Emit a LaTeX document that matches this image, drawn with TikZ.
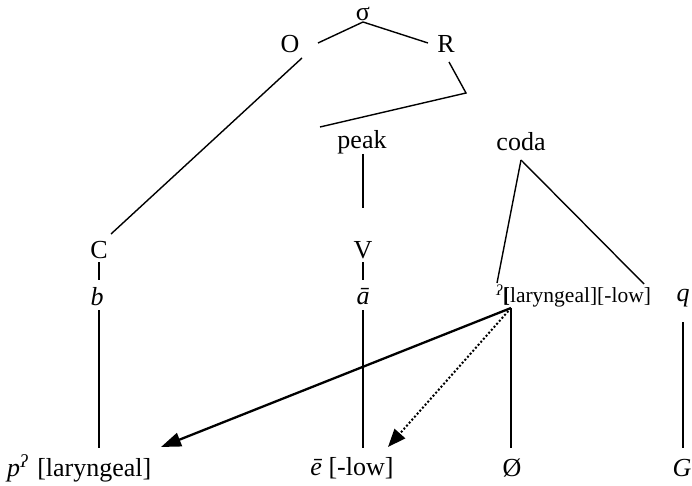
\documentclass[tikz,border=0pt]{standalone}
\usepackage{fontspec}
\setmainfont{Liberation Serif}
\usetikzlibrary{arrows.meta}
\begin{document}
\begin{tikzpicture}[x=1pt,y=-1pt,
  lbl/.style={inner sep=0pt, font=\fontsize{26}{30}\selectfont},
  small/.style={inner sep=0pt, font=\fontsize{21.5}{25}\selectfont},
  branch/.style={line width=1.4pt},
  move/.style={line width=2.3pt, -{Triangle[length=20pt,width=14pt]}},
  spread/.style={line width=2pt, dotted, -{Triangle[length=18pt,width=14pt]}}
]
\useasboundingbox (0,0) rectangle (692,486);

% syllable nodes
\node[lbl] (sig)  at (363,14)  {σ};
\node[lbl] (ons)  at (290,44)  {O};
\node[lbl] (rhy)  at (446,44)  {R};
\node[lbl] (peak) at (362,142) {peak};
\node[lbl] (coda) at (521,142) {coda};
\node[lbl] (cons) at (99,250)  {C};
\node[lbl] (vow)  at (363,250) {V};

% underlying segments
\node[lbl] (b)    at (97,297)  {\itshape b};
\node[lbl] (abar) at (363,297) {\itshape ā};
\node[small, anchor=west] (lar) at (496,296) {\textsuperscript{\itshape ʔ}\textbf{[}laryngeal][-low]};
\node[lbl] (q)    at (683,298) {\itshape q};

% surface forms
\node[lbl, anchor=west] (p) at (7,468) {\itshape p\textsuperscript{ʔ}\upshape\hspace{0.35em}[laryngeal]};
\node[lbl] (ebar) at (352,468) {\itshape ē\upshape{} [-low]};
\node[lbl] (zero) at (512,468) {Ø};
\node[lbl] (G)    at (682,468) {\itshape G};

% branch end points
\coordinate (sigB)  at (363,22);
\coordinate (onsT)  at (318,43);
\coordinate (rhyT)  at (428,43);
\coordinate (onsB)  at (302,58);
\coordinate (consT) at (111,234);
\coordinate (rhyB)  at (449,62);
\coordinate (join)  at (466,93);
\coordinate (peakT) at (320,127);
\coordinate (peakB) at (363,154);
\coordinate (vowT)  at (363,208);
\coordinate (vowB)  at (363,262);
\coordinate (abarT) at (363,280);
\coordinate (consB) at (99,262);
\coordinate (bT)    at (99,280);
\coordinate (bB)    at (99,310);
\coordinate (pT)    at (99,448);
\coordinate (abarB) at (363,310);
\coordinate (ebarT) at (363,448);
\coordinate (codaB) at (521,160);
\coordinate (larT)  at (497,283);
\coordinate (qT)    at (644,284);
\coordinate (larB)  at (511,308);
\coordinate (zeroT) at (511,448);
\coordinate (qB)    at (683,322);
\coordinate (GT)    at (683,448);
\coordinate (pTip)  at (161,447);
\coordinate (eTip)  at (388,447);

% tree branches
\draw[branch] (sigB) -- (onsT);
\draw[branch] (sigB) -- (rhyT);
\draw[branch] (onsB) -- (consT);
\draw[branch] (rhyB) -- (join) -- (peakT);
\draw[branch] (peakB) -- (vowT);
\draw[branch] (vowB) -- (abarT);
\draw[branch] (consB) -- (bT);
\draw[branch] (bB) -- (pT);
\draw[branch] (abarB) -- (ebarT);
\draw[branch] (codaB) -- (larT);
\draw[branch] (codaB) -- (qT);
\draw[branch] (larB) -- (zeroT);
\draw[branch] (qB) -- (GT);

% feature spreading
\draw[move] (larB) -- (pTip);
\draw[spread] (larB) -- (eTip);
\end{tikzpicture}
\end{document}
